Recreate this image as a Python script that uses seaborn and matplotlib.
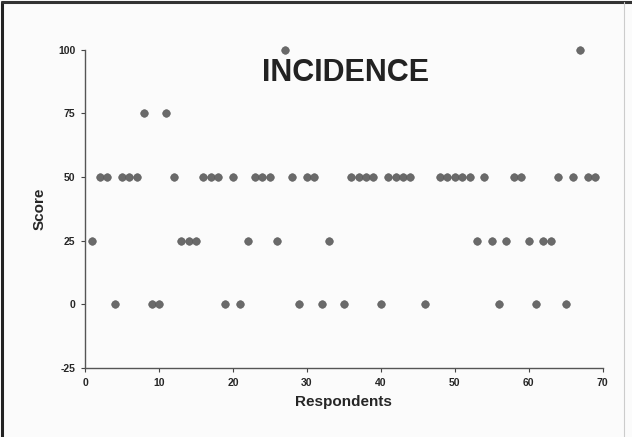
import numpy as np
import pandas as pd
import matplotlib.pyplot as plt
import seaborn as sns
from matplotlib.lines import Line2D

# values (respondents 34, 45 and 47 have no point)
respondents = [1, 2, 3, 4, 5, 6, 7, 8, 9, 10,
               11, 12, 13, 14, 15, 16, 17, 18, 19, 20,
               21, 22, 23, 24, 25, 26, 27, 28, 29, 30,
               31, 32, 33, 35, 36, 37, 38, 39, 40,
               41, 42, 43, 44, 46, 48, 49, 50,
               51, 52, 53, 54, 55, 56, 57, 58, 59, 60,
               61, 62, 63, 64, 65, 66, 67, 68, 69]
scores = [25, 50, 50, 0, 50, 50, 50, 75, 0, 0,
          75, 50, 25, 25, 25, 50, 50, 50, 0, 50,
          0, 25, 50, 50, 50, 25, 100, 50, 0, 50,
          50, 0, 25, 0, 50, 50, 50, 50, 0,
          50, 50, 50, 50, 0, 50, 50, 50,
          50, 50, 25, 50, 25, 0, 25, 50, 50, 25,
          0, 25, 25, 50, 0, 50, 100, 50, 50]
x_ticks = [0, 10, 20, 30, 40, 50, 60, 70]
y_ticks = [-25, 0, 25, 50, 75, 100]

df = pd.DataFrame({"Respondents": respondents, "Score": scores})

sns.set_style("ticks")
plt.rcParams['font.family'] = ['Liberation Sans', 'DejaVu Sans']
plt.rcParams['axes.unicode_minus'] = False

fig = plt.figure(figsize=(6.32, 4.37), dpi=100)
fig.patch.set_facecolor("#fbfbfb")
ax = fig.add_axes([0.1345, 0.158, 0.819, 0.728])
ax.set_facecolor("#fbfbfb")

sns.scatterplot(data=df, x="Respondents", y="Score", ax=ax,
                color="#6a6a6a", s=30, edgecolor="#5a5a5a", linewidth=0.4,
                clip_on=False, zorder=3)

ax.set_xlim(0, 70)
ax.set_ylim(-25, 100)
ax.set_xticks(x_ticks)
ax.set_yticks(y_ticks)
ax.tick_params(axis="both", direction="out", length=3, width=0.8,
               color="#444444", labelsize=7.5, pad=4)
for lbl in ax.get_xticklabels() + ax.get_yticklabels():
    lbl.set_fontweight("bold")

sns.despine(ax=ax)
for side in ["left", "bottom"]:
    ax.spines[side].set_color("#555555")
    ax.spines[side].set_linewidth(1.0)

ax.set_xlabel("Respondents", fontsize=11, fontweight="bold", labelpad=5)
ax.set_ylabel("Score", fontsize=11, fontweight="bold", labelpad=8)

ax.text(0.503, 0.928, "INCIDENCE", transform=ax.transAxes, ha="center",
        va="center", fontsize=22, fontweight="bold", color="#222222")

# scan frame around the image
fig.add_artist(Line2D([0.003, 0.003], [0, 0.995], transform=fig.transFigure,
                      color="#222222", linewidth=2.2))
fig.add_artist(Line2D([0.003, 1.0], [0.995, 0.995], transform=fig.transFigure,
                      color="#333333", linewidth=2.2))
fig.add_artist(Line2D([0.988, 0.988], [0, 0.995], transform=fig.transFigure,
                      color="#cccccc", linewidth=0.8))

fig.savefig("out.png", dpi=100, facecolor=fig.get_facecolor())
